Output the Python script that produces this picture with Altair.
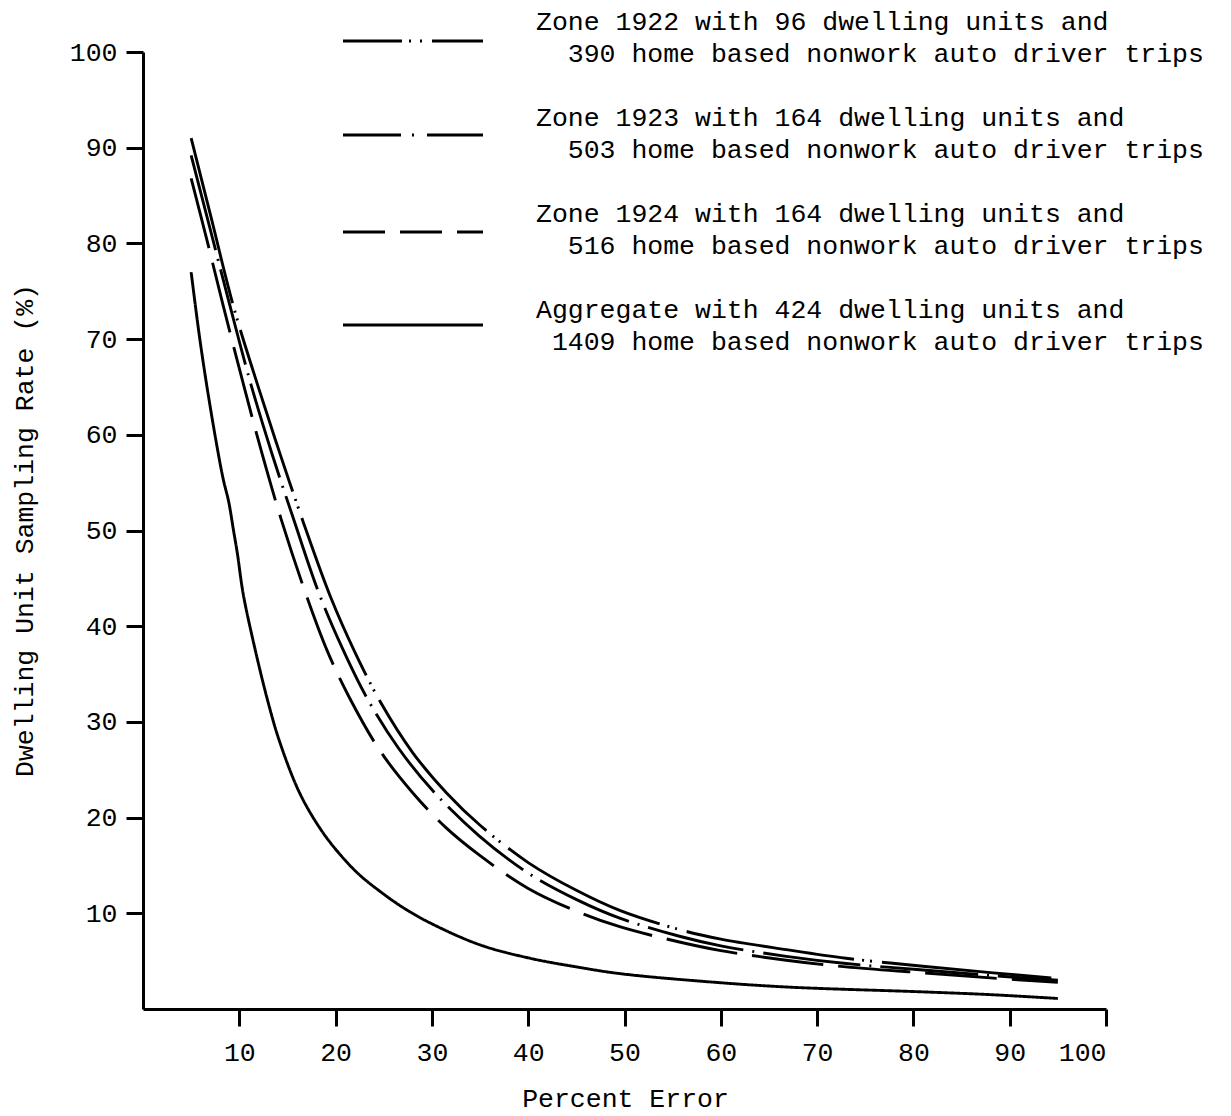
import altair as alt
import pandas as pd

# ---- data ----
x_1922 = [5, 7, 9.4, 12, 14.3, 16.6, 19.5, 22, 24.7, 28, 31.5, 35, 40, 45, 49.5, 55.7, 60, 66.8, 73, 80.7, 88, 95]
y_1922 = [91.0, 83.0, 73.4, 64.9, 57.8, 51.0, 43.0, 37.3, 32.0, 26.8, 22.6, 19.2, 15.3, 12.4, 10.3, 8.3, 7.3, 6.2, 5.3, 4.5, 3.8, 3.2]

x_1923 = [5, 7, 9, 11.2, 13.4, 15.6, 18.25, 20.7, 23.2, 26.5, 30.1, 34.9, 40, 45.3, 49.5, 55.7, 60, 66.8, 73, 80.7, 88, 95]
y_1923 = [89.2, 81.4, 73.6, 65.3, 58.0, 51.3, 43.5, 37.7, 32.6, 27.3, 22.8, 18.1, 14.2, 11.3, 9.5, 7.6, 6.6, 5.5, 4.75, 4.1, 3.5, 3.0]

x_1924 = [5, 6.7, 8.3, 10.5, 12.4, 14.4, 16.9, 19.1, 21.4, 24.6, 28, 31.4, 34.9, 40, 45.3, 49.5, 55.7, 60, 66.8, 73, 80.7, 88, 95]
y_1924 = [86.8, 80.1, 73.6, 65.0, 57.9, 51.0, 43.4, 37.5, 32.6, 27.0, 22.6, 19.0, 16.1, 12.6, 10.1, 8.6, 7.0, 6.1, 5.1, 4.4, 3.8, 3.25, 2.8]

x_aggr = [5, 5.9, 7, 8.3, 8.9, 9.4, 9.8, 10.4, 11.5, 12.9, 14.2, 16.3, 18.5, 20.5, 22.5, 24.6, 27, 29.8, 35, 40.2, 45, 49.5, 58, 66.8, 80.7, 88, 95]
y_aggr = [77.0, 70.0, 62.8, 55.5, 53.0, 50.0, 47.6, 43.4, 38.2, 32.4, 27.9, 22.5, 18.7, 16.1, 14.0, 12.3, 10.6, 9.0, 6.7, 5.3, 4.4, 3.7, 2.9, 2.3, 1.8, 1.5, 1.1]

series_names = ["Zone 1922", "Zone 1923", "Zone 1924", "Aggregate"]
series_x = [x_1922, x_1923, x_1924, x_aggr]
series_y = [y_1922, y_1923, y_1924, y_aggr]

legend_line1 = [
    "Zone 1922 with 96 dwelling units and",
    "Zone 1923 with 164 dwelling units and",
    "Zone 1924 with 164 dwelling units and",
    "Aggregate with 424 dwelling units and",
]
legend_line2 = [
    "390 home based nonwork auto driver trips",
    "503 home based nonwork auto driver trips",
    "516 home based nonwork auto driver trips",
    "1409 home based nonwork auto driver trips",
]
legend_indent = [2, 2, 2, 1]

tick_values = [10, 20, 30, 40, 50, 60, 70, 80, 90, 100]

# ---- styles ----
FONT = "Liberation Mono"
FS = 26.5
CHAR_W = FS * 0.6
curve_dash = [[170, 8, 2, 6, 2, 10], [98, 9, 2, 9], [72, 15], [1, 0]]
legend_dash = [[59, 7, 2, 9, 2, 10], [58, 11, 2, 13], [42, 15], None]

rows = []
for name, xs, ys in zip(series_names, series_x, series_y):
    for i, (xv, yv) in enumerate(zip(xs, ys)):
        rows.append({"series": name, "x": xv, "y": yv, "o": i})
df = pd.DataFrame(rows)

lines = alt.Chart(df).mark_line(color="black", strokeWidth=2.9, interpolate="catmull-rom").encode(
    x=alt.X("x:Q",
            scale=alt.Scale(domain=[0, 100], nice=False, zero=False),
            axis=alt.Axis(values=tick_values, format="d", title="Percent Error",
                          titleX=482, titleY=89, titleAlign="center", titleBaseline="middle",
                          labelPadding=13)),
    y=alt.Y("y:Q",
            scale=alt.Scale(domain=[0, 100], nice=False, zero=False),
            axis=alt.Axis(values=tick_values, format="d", title="Dwelling Unit Sampling Rate (%)",
                          titleX=-119, titleY=478, titleAngle=-90, titleAlign="center",
                          titleBaseline="middle", labelPadding=9)),
    strokeDash=alt.StrokeDash("series:N",
                              scale=alt.Scale(domain=series_names, range=curve_dash),
                              legend=None),
    detail="series:N",
    order="o:Q",
)

layers = [lines]
rule_y = [-11, 83, 180, 273]
text_y = [-22, 74, 170, 266]
LINE_GAP = 32
TEXT_X = 393
for i in range(4):
    rule_kw = dict(color="black", strokeWidth=3)
    if legend_dash[i] is not None:
        rule_kw["strokeDash"] = legend_dash[i]
    rule = alt.Chart(pd.DataFrame({"k": [i]})).mark_rule(**rule_kw).encode(
        x=alt.value(200), x2=alt.value(340), y=alt.value(rule_y[i])
    )
    t1 = alt.Chart(pd.DataFrame({"t": [legend_line1[i]]})).mark_text(
        align="left", baseline="alphabetic", font=FONT, fontSize=FS, color="black"
    ).encode(x=alt.value(TEXT_X), y=alt.value(text_y[i]), text="t:N")
    t2 = alt.Chart(pd.DataFrame({"t": [legend_line2[i]]})).mark_text(
        align="left", baseline="alphabetic", font=FONT, fontSize=FS, color="black"
    ).encode(x=alt.value(TEXT_X + legend_indent[i] * CHAR_W),
             y=alt.value(text_y[i] + LINE_GAP), text="t:N")
    layers += [rule, t1, t2]

chart = alt.layer(*layers).properties(
    width=963, height=957,
    padding={"left": 143, "top": 52, "right": 125, "bottom": 107},
    autosize=alt.AutoSizeParams(type="none"),
).configure(background="white").configure_view(stroke=None).configure_axis(
    grid=False, domainColor="black", domainWidth=3, tickColor="black", tickWidth=3,
    tickSize=17, labelFont=FONT, labelFontSize=FS, labelColor="black",
    titleFont=FONT, titleFontSize=FS, titleFontWeight="normal", titleColor="black",
)

chart.save("out.html", embed_options={"renderer": "svg", "actions": False})
